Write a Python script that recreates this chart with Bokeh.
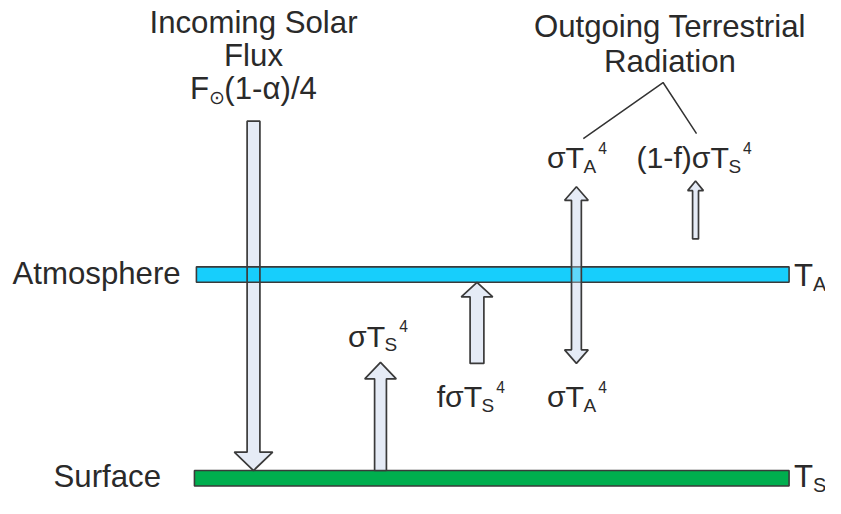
from bokeh.plotting import figure
from bokeh.models import Range1d, ColumnDataSource
from bokeh.core.properties import value
from bokeh.embed import file_html
from bokeh.resources import INLINE

# ---------------- data ----------------
layer_names = ["Atmosphere", "Surface"]
layer_symbols = ["T", "T"]
layer_subs = ["A", "S"]
layer_top = [276, 487]
layer_bottom = [292, 503]
layer_left = [199, 197]
layer_right = [801, 801]
layer_colors = ["#17CEFC", "#00AE4E"]

# arrows: centre x, tail y, tip y
arrow_x = [257, 386, 484, 706]
arrow_tail = [125, 487, 376, 247]
arrow_tip = [487, 375, 292, 187]
arrow_shaft_hw = [6.5, 6, 7, 3]
arrow_head_hw = [19.5, 16, 16, 8]
arrow_head_len = [19, 17, 15, 10]

double_x = 585
double_tips = [193, 376]
double_shaft_hw = 5
double_head_hw = 12
double_head_len = 14

# flux labels as (text, role) pieces; role: m = main, b = subscript, p = superscript
flux_labels = [
    [("σT", "m"), ("A", "b"), ("4", "p")],
    [("(1-f)σT", "m"), ("S", "b"), ("4", "p")],
    [("σT", "m"), ("S", "b"), ("4", "p")],
    [("fσT", "m"), ("S", "b"), ("4", "p")],
    [("σT", "m"), ("A", "b"), ("4", "p")],
]
flux_label_x = [555, 646, 353, 443, 555]
flux_label_y = [173, 173, 358, 421, 421]

incoming_lines = ["Incoming Solar", "Flux"]
incoming_formula = [("F", "m"), ("⊙", "b"), ("(1-α)/4", "m")]
outgoing_lines = ["Outgoing Terrestrial", "Radiation"]
callout_x = [592, 673, 707]
callout_y = [143, 85, 138]

# ---------------- styling ----------------
PW, PH = 825, 498
RW, RH = 838, 516
SX = PW / RW
SY = PH / RH
FS = (SX + SY) / 2
BASE_FIX = 0.33   # em offset of the svg text baseline

FONT = "Liberation Sans"
MAIN = 32 * FS
LAB = 31 * FS
SUB = 19.5 * FS
SUP = 16 * FS
TXT = "#2a2a2a"
EDGE = "#3a3a3a"
ARROW_FILL = "#E5EBF6"

W = {"σ": 0.60, "T": 0.611, "A": 0.667, "S": 0.667, "4": 0.556, "f": 0.278,
     "(": 0.333, ")": 0.333, "1": 0.556, "-": 0.333, "F": 0.611, "α": 0.58,
     "/": 0.278, "⊙": 0.7}


def width(s, size):
    return sum(W.get(c, 0.556) for c in s) * size / SX


def by(y, size):
    # data y for a wanted baseline
    return y - BASE_FIX * size / SY


p = figure(width=PW, height=PH, output_backend="svg", toolbar_location=None,
           x_range=Range1d(0, RW), y_range=Range1d(RH, 0),
           min_border=0, background_fill_color="white")
p.axis.visible = False
p.grid.visible = False
p.outline_line_color = None


def arrow_poly(x, tail, tip, shw, hhw, hl):
    d = 1 if tip > tail else -1
    base = tip - d * hl
    xs = [x - shw, x - shw, x - hhw, x, x + hhw, x + shw, x + shw]
    ys = [tail, base, base, tip, base, base, tail]
    return xs, ys


def double_poly(x, tips, shw, hhw, hl):
    top, bot = tips
    b1, b2 = top + hl, bot - hl
    xs = [x, x + hhw, x + shw, x + shw, x + hhw, x, x - hhw, x - shw, x - shw, x - hhw]
    ys = [top, b1, b1, b2, b2, bot, b2, b2, b1, b1]
    return xs, ys


polys_x, polys_y = [], []
for i in range(len(arrow_x)):
    xs, ys = arrow_poly(arrow_x[i], arrow_tail[i], arrow_tip[i], arrow_shaft_hw[i],
                        arrow_head_hw[i], arrow_head_len[i])
    polys_x.append(xs)
    polys_y.append(ys)
dx, dy = double_poly(double_x, double_tips, double_shaft_hw, double_head_hw, double_head_len)
polys_x.append(dx)
polys_y.append(dy)

p.patches(polys_x, polys_y, fill_color=ARROW_FILL, line_color=None)

lay = ColumnDataSource(dict(left=layer_left, right=layer_right, top=layer_top,
                            bottom=layer_bottom, color=layer_colors))
p.quad(left="left", right="right", top="top", bottom="bottom", source=lay,
       fill_color="color", line_color=EDGE, line_width=1.6)

p.patches(polys_x, polys_y, fill_color=ARROW_FILL, fill_alpha=[0.0, 1, 1, 1, 0.35],
          line_color=EDGE, line_width=1.7)


def txt(xs, ys, texts, size, align="left"):
    p.text(x=xs, y=[by(y, size) for y in ys], text=texts, text_align=align,
           text_baseline="alphabetic", text_font=value(FONT),
           text_font_size=value(f"{size:.2f}px"), text_color=TXT)


txt([183, 163], [294, 504], layer_names, MAIN, "right")
txt([806, 806], [296, 504], layer_symbols, MAIN)
tw = width("T", MAIN)
txt([806 + tw, 806 + tw], [301, 509], layer_subs, SUB + 1)


def draw_pieces(pieces, x0, y0, main):
    x = x0
    for s, role in pieces:
        if role == "m":
            size, dyy = main, 0
        elif role == "b":
            size, dyy = SUB, 5
        else:
            size, dyy = SUP, -15
        txt([x], [y0 + dyy], [s], size)
        x += width(s, size) + (2 if role == "b" else 0)


for pieces, lx, ly in zip(flux_labels, flux_label_x, flux_label_y):
    draw_pieces(pieces, lx, ly, LAB)

txt([257, 257], [33, 68], incoming_lines, MAIN, "center")
fw = sum(width(s, MAIN if r == "m" else SUB) for s, r in incoming_formula) + 2
draw_pieces(incoming_formula, 257 - fw / 2, 102, MAIN)

txt([680, 680], [38, 74], outgoing_lines, MAIN, "center")
p.line(callout_x, callout_y, line_color="#333333", line_width=1.5)

open("out.html", "w").write(file_html(p, INLINE))
